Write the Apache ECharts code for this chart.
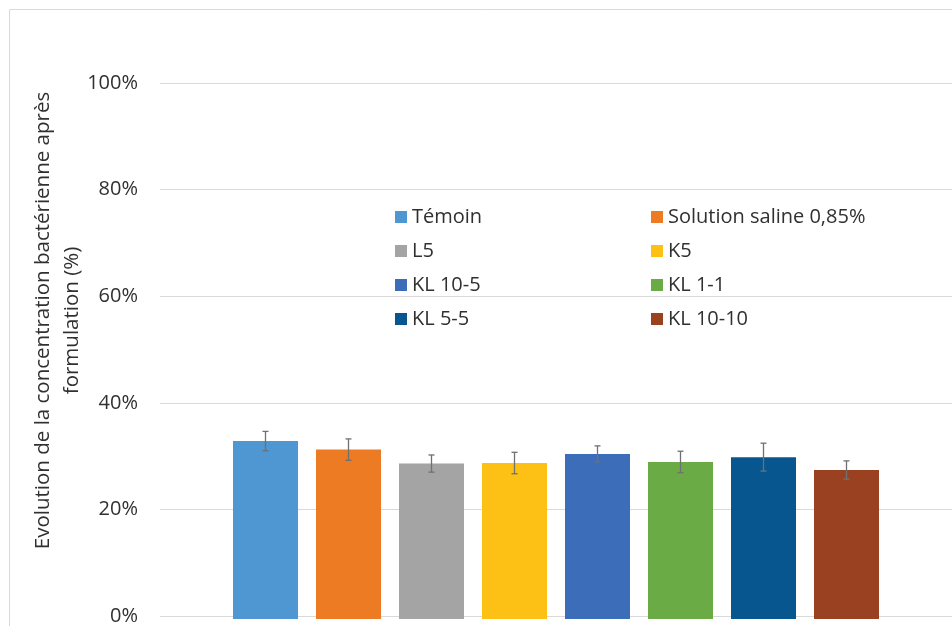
<!DOCTYPE html>
<html>
<head>
<meta charset="utf-8">
<script src="https://cdn.jsdelivr.net/npm/echarts@6/dist/echarts.min.js"></script>
<style>
  html, body { margin: 0; padding: 0; background: #fff; }
  #main { width: 952px; height: 626px; }
</style>
</head>
<body>
<div id="main"></div>
<script>
// noms des formulations et valeurs (%)
var categories = ['Témoin', 'Solution saline 0,85%', 'L5', 'K5', 'KL 10-5', 'KL 1-1', 'KL 5-5', 'KL 10-10'];
var values = [33.2, 31.6, 29.0, 29.1, 30.8, 29.3, 30.2, 27.8];
var errors = [1.8, 2.0, 1.6, 2.0, 1.5, 2.0, 2.6, 1.7];
var colors = ['#4F97D2', '#EC7B24', '#A4A4A4', '#FDC115', '#3C6DB8', '#6AAB45', '#075690', '#9A4121'];
var yTicks = [0, 20, 40, 60, 80, 100];

var myChart = echarts.init(document.getElementById('main'));
var font = '"Open Sans", sans-serif';
var textColor = '#303030';

// une série par formulation, empilées pour rester centrées sur leur catégorie
var barSeries = categories.map(function (name, k) {
    return {
        name: name,
        type: 'bar',
        xAxisIndex: 1,
        yAxisIndex: 1,
        stack: 'all',
        barWidth: 65,
        itemStyle: { color: colors[k] },
        data: values.map(function (v, i) { return i === k ? v : '-'; })
    };
});

var errorData = values.map(function (v, i) { return [i, v, errors[i]]; });

var legendStyle = {
    orient: 'vertical',
    top: 207,
    padding: 0,
    itemGap: 14,
    itemWidth: 12,
    itemHeight: 12,
    icon: 'rect',
    textStyle: { color: textColor, fontFamily: font, fontSize: 20 }
};

var option = {
    backgroundColor: '#fff',
    animation: false,
    graphic: [{
        type: 'rect',
        shape: { x: 9.5, y: 9.5, width: 1000, height: 1000 },
        style: { fill: 'none', stroke: '#d9d9d9', lineWidth: 1 },
        silent: true
    }],
    grid: [
        { left: 160, right: 0, top: 83, bottom: 7 },
        { left: 224, right: 64, top: 83, bottom: 7 }
    ],
    xAxis: [
        { type: 'category', gridIndex: 0, data: [''], show: false },
        { type: 'category', gridIndex: 1, data: categories, show: false }
    ],
    yAxis: [{
        type: 'value',
        gridIndex: 0,
        min: 0,
        max: yTicks[yTicks.length - 1],
        interval: yTicks[1] - yTicks[0],
        axisLine: { show: false },
        axisTick: { show: false },
        splitLine: { lineStyle: { color: '#d9d9d9', width: 1 } },
        axisLabel: {
            formatter: '{value}%',
            color: textColor,
            fontFamily: font,
            fontSize: 20,
            margin: 22
        },
        name: 'Evolution de la concentration bactérienne après\nformulation (%)',
        nameLocation: 'middle',
        nameGap: 73,
        nameMoveOverlap: false,
        nameTextStyle: {
            color: textColor,
            fontFamily: font,
            fontSize: 20.5,
            lineHeight: 29,
            padding: [0, 0, 0, 58]
        }
    }, {
        type: 'value',
        gridIndex: 1,
        min: 0,
        max: yTicks[yTicks.length - 1],
        interval: yTicks[1] - yTicks[0],
        show: false,
        splitLine: { show: false }
    }],
    legend: [
        Object.assign({ left: 395, data: categories.filter(function (c, i) { return i % 2 === 0; }) }, legendStyle),
        Object.assign({ left: 651, data: categories.filter(function (c, i) { return i % 2 === 1; }) }, legendStyle)
    ],
    series: barSeries.concat([{
        type: 'custom',
        name: 'erreur',
        xAxisIndex: 1,
        yAxisIndex: 1,
        z: 5,
        data: errorData,
        renderItem: function (params, api) {
            var x = api.value(0);
            var y = api.value(1);
            var e = api.value(2);
            var top = api.coord([x, y + e]);
            var bottom = api.coord([x, y - e]);
            var w = 3;
            var style = { stroke: '#707070', lineWidth: 1.3 };
            return {
                type: 'group',
                children: [
                    { type: 'line', shape: { x1: top[0], y1: top[1], x2: bottom[0], y2: bottom[1] }, style: style },
                    { type: 'line', shape: { x1: top[0] - w, y1: top[1], x2: top[0] + w, y2: top[1] }, style: style },
                    { type: 'line', shape: { x1: bottom[0] - w, y1: bottom[1], x2: bottom[0] + w, y2: bottom[1] }, style: style }
                ]
            };
        }
    }])
};

myChart.setOption(option);
</script>
</body>
</html>
